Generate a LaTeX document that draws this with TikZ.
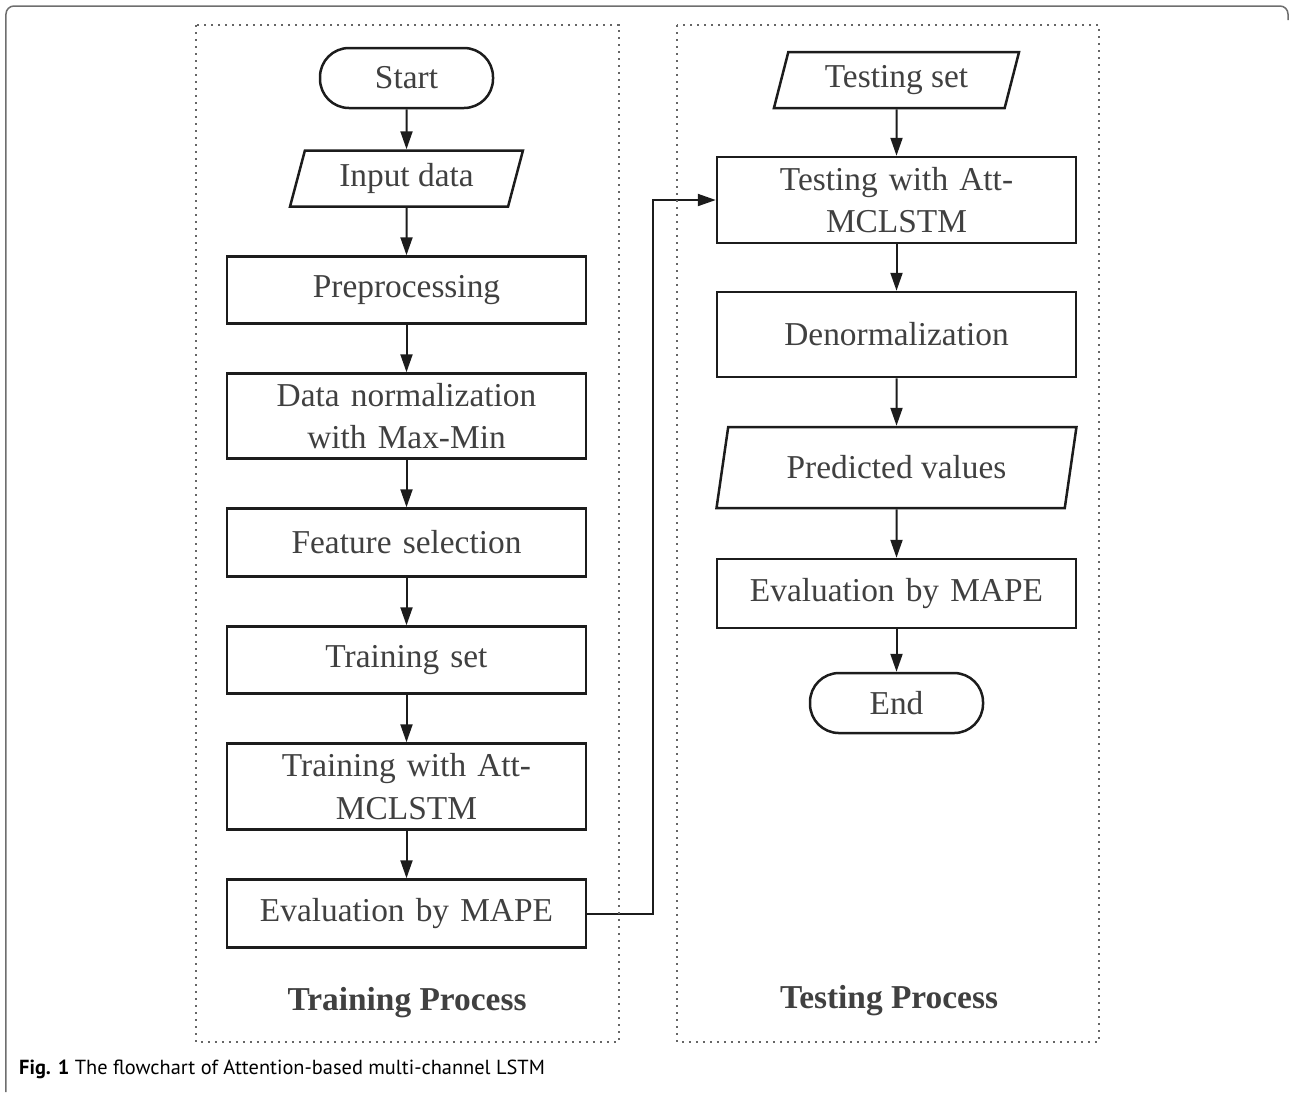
\documentclass[tikz,border=0pt]{standalone}
\usepackage{fontspec}
\setmainfont{Liberation Serif}
\newfontfamily\capfont{PT Sans}
\usepackage{tikz}
\usetikzlibrary{positioning, shapes.geometric, arrows.meta, calc}
\definecolor{txtColor}{RGB}{64,64,64}
\definecolor{lineColor}{RGB}{28,28,28}
\definecolor{frameColor}{RGB}{110,110,110}
\tikzset{
    procnode/.style={
        rectangle,
        draw=lineColor,
        line width=0.05cm,
        minimum width=7.18cm,
        minimum height=1.34cm,
        text width=6.8cm,
        align=center,
        inner sep=0pt,
        text=txtColor,
        font=\fontsize{19}{24}\selectfont
    },
    ionode/.style={
        trapezium,
        trapezium left angle=72,
        trapezium right angle=108,
        trapezium stretches=true,
        draw=lineColor,
        line width=0.05cm,
        inner sep=0pt,
        text=txtColor,
        font=\fontsize{19}{24}\selectfont
    },
    termnode/.style={
        rectangle,
        rounded corners=0.58cm,
        draw=lineColor,
        line width=0.05cm,
        minimum width=3.46cm,
        minimum height=1.2cm,
        text=txtColor,
        font=\fontsize{19}{24}\selectfont
    },
    ptr/.style={
        -{Triangle[length=0.36cm, width=0.24cm]},
        line width=0.04cm,
        draw=lineColor
    },
    region/.style={draw=black!60, line width=0.05cm, dash pattern=on 0.04cm off 0.1cm},
    heading/.style={text=txtColor, font=\bfseries\fontsize{19}{24}\selectfont}
}

\begin{document}
\begin{tikzpicture}[node distance=0.95cm]
        \useasboundingbox (0,0) rectangle (25.8,-21.84);
        \draw[frameColor, line width=0.03cm, rounded corners=0.16cm]
            (0.12,-21.84) -- (0.12,-0.12) -- (25.76,-0.12) -- (25.76,-0.4);

        % training column
        \node[termnode] (start) at (8.13,-1.56) {Start};
        \node[ionode, below=0.8cm of start, minimum width=4.66cm, minimum height=1.12cm] (input) {Input data};
        \node[procnode, below=of input] (prep) {Preprocessing};
        \node[procnode, below=of prep, minimum height=1.7cm] (norm) {Data normalization\\with Max-Min};
        \node[procnode, below=of norm, minimum height=1.36cm] (feat) {Feature selection};
        \node[procnode, below=of feat] (trainset) {Training set};
        \node[procnode, below=of trainset, minimum height=1.72cm] (train) {Training with Att-\\MCLSTM};
        \node[procnode, below=of train, minimum height=1.36cm] (evalA) {Evaluation by MAPE};

        % testing column
        \node[ionode, minimum width=4.92cm, minimum height=1.12cm] (testset) at (17.93,-1.6) {Testing set};
        \node[procnode, below=0.93cm of testset, minimum height=1.72cm] (test) {Testing with Att-\\MCLSTM};
        \node[procnode, below=0.93cm of test, minimum height=1.7cm] (denorm) {Denormalization};
        \node[ionode, below=of denorm, minimum width=7.2cm, minimum height=1.62cm] (pred) {Predicted values};
        \node[procnode, below=0.97cm of pred, minimum height=1.38cm] (evalB) {Evaluation by MAPE};
        \node[termnode, below=0.85cm of evalB] (end) {End};

        \draw[ptr] (start) -- (input);
        \draw[ptr] (input) -- (prep);
        \draw[ptr] (prep) -- (norm);
        \draw[ptr] (norm) -- (feat);
        \draw[ptr] (feat) -- (trainset);
        \draw[ptr] (trainset) -- (train);
        \draw[ptr] (train) -- (evalA);
        \draw[ptr] (evalA.east) -- ++(1.31,0) |- (test.west);
        \draw[ptr] (testset) -- (test);
        \draw[ptr] (test) -- (denorm);
        \draw[ptr] (denorm) -- (pred);
        \draw[ptr] (pred) -- (evalB);
        \draw[ptr] (evalB) -- (end);

        \draw[region] (3.92,-0.5) rectangle (12.38,-20.84);
        \draw[region] (13.54,-0.5) rectangle (21.98,-20.84);
        \node[heading] (trainlbl) at (8.14,-20.06) {Training Process};
        \node[heading] (testlbl) at (17.78,-20.02) {Testing Process};

        \node[anchor=west, font=\capfont\fontsize{11.6}{14}\selectfont] (cap) at (0.26,-21.38)
            {\textbf{Fig. 1} The flowchart of Attention-based multi-channel LSTM};
    \end{tikzpicture}
\end{document}
